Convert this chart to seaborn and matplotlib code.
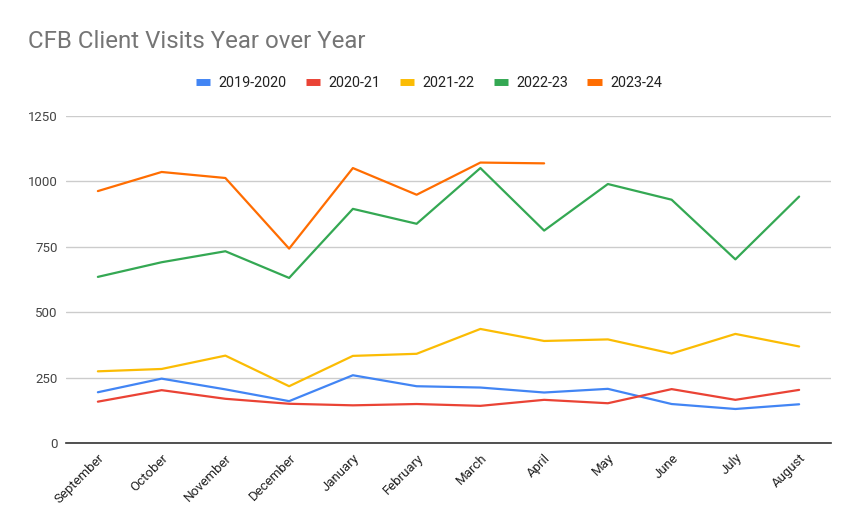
import numpy as np
import pandas as pd
import matplotlib
matplotlib.use("Agg")
import matplotlib.pyplot as plt
import seaborn as sns

months = ["September", "October", "November", "December", "January", "February",
          "March", "April", "May", "June", "July", "August"]
s2019 = [194, 246, 205, 160, 259, 217, 212, 193, 207, 149, 130, 148]
s2020 = [158, 202, 169, 150, 144, 149, 142, 165, 152, 206, 165, 203]
s2021 = [274, 283, 334, 217, 333, 341, 436, 390, 396, 342, 417, 369]
s2022 = [635, 691, 733, 631, 895, 838, 1051, 812, 990, 930, 702, 942]
s2023 = [963, 1036, 1013, 743, 1051, 949, 1072, 1069, np.nan, np.nan, np.nan, np.nan]
series_names = ["2019-2020", "2020-21", "2021-22", "2022-23", "2023-24"]
colors = ["#4285F4", "#EA4335", "#FBBC04", "#34A853", "#FF6D01"]

rows = []
for name, vals in zip(series_names, [s2019, s2020, s2021, s2022, s2023]):
    for i, (m, v) in enumerate(zip(months, vals)):
        rows.append({"idx": i, "month": m, "series": name, "visits": v})
df = pd.DataFrame(rows)

sns.set_theme(style="white")
plt.rcParams["font.family"] = ["Roboto", "DejaVu Sans"]

fig = plt.figure(figsize=(8.58, 5.31), dpi=100)
ax = fig.add_axes([66/858, 1-443/531, (831-66)/858, (443-116)/531])

sns.lineplot(data=df.dropna(), x="idx", y="visits", hue="series",
             hue_order=series_names, palette=colors, linewidth=1.6,
             ax=ax, legend=False, sort=True)

ax.set_xlim(-0.5, 11.5)
ax.set_ylim(0, 1250)
ax.set_yticks([0, 250, 500, 750, 1000, 1250])
ax.set_yticklabels(["0", "250", "500", "750", "1000", "1250"], fontsize=9.5, color="#444444")
ax.set_xticks(range(12))
ax.set_xticklabels(months, rotation=45, ha="right", rotation_mode="anchor",
                   fontsize=9.5, color="#222222")
ax.tick_params(axis="both", length=0, pad=6)
ax.grid(axis="y", color="#cccccc", linewidth=1)
ax.set_axisbelow(True)
for sp in ["top", "right", "left"]:
    ax.spines[sp].set_visible(False)
ax.spines["bottom"].set_color("#333333")
ax.spines["bottom"].set_linewidth(1.2)
ax.set_xlabel("")
ax.set_ylabel("")

fig.text(28/858, 1-42/531, "CFB Client Visits Year over Year", fontsize=17.3,
         color="#757575", va="center", ha="left")

from matplotlib.lines import Line2D
handles = [Line2D([0], [0], color=c, linewidth=5, solid_capstyle="butt") for c in colors]
leg = fig.legend(handles, series_names, loc="center", bbox_to_anchor=(429/858, 1-83/531),
                 ncol=5, frameon=False, fontsize=10.4, handlelength=1.0,
                 handletextpad=0.6, columnspacing=1.3)
for t in leg.get_texts():
    t.set_color("#222222")

fig.savefig("out.png", dpi=100)
